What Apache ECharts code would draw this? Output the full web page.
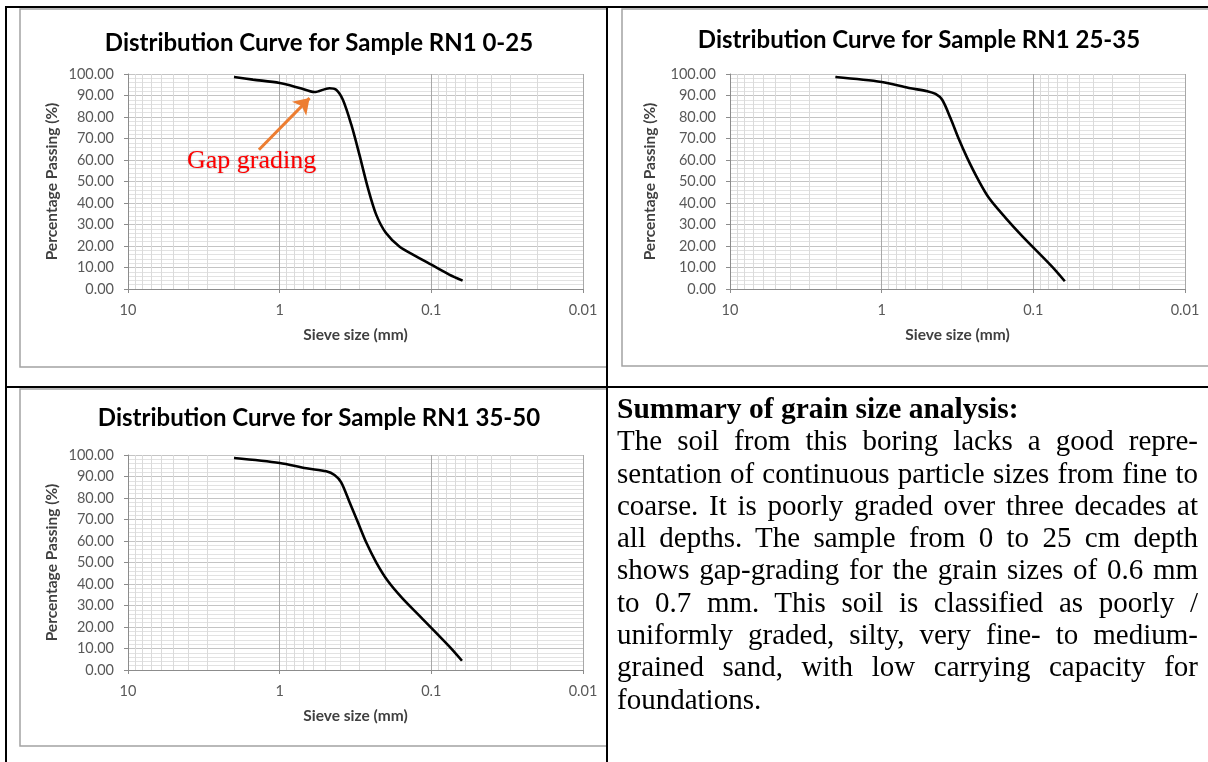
<!DOCTYPE html>
<html><head><meta charset="utf-8">
<script src="https://cdn.jsdelivr.net/npm/echarts@6/dist/echarts.min.js"></script>
<style>
html,body{margin:0;padding:0;background:#fff;}
#wrap{position:relative;width:1208px;height:762px;overflow:hidden;background:#fff;}
#chart{position:absolute;left:0;top:0;width:1208px;height:762px;}
#summary{position:absolute;left:617px;top:392px;width:581px;font-family:'Liberation Serif','Times New Roman',serif;font-size:29px;line-height:32.3px;color:#000;}
#summary .h{font-weight:bold;font-size:29.5px;}
#summary .j{text-align:justify;text-align-last:justify;}
</style></head>
<body><div id="wrap"><div id="chart"></div><div id="summary"></div></div>
<script>
// ---- data ----
const chartTitles = ['Distribution Curve for Sample RN1 0-25', 'Distribution Curve for Sample RN1 25-35', 'Distribution Curve for Sample RN1 35-50'];
const xAxisTitle = 'Sieve size (mm)';
const yAxisTitle = 'Percentage Passing (%)';

const sieve1 = [2.0, 1.5, 1.0, 0.74, 0.59, 0.47, 0.424, 0.383, 0.337, 0.298, 0.262, 0.231, 0.199, 0.1625, 0.126, 0.1, 0.0762, 0.0622];
const passing1 = [98.6, 97.4, 95.8, 93.5, 91.6, 93.4, 92.7, 88.0, 76.4, 62.5, 47.0, 34.6, 26.0, 19.8, 15.2, 11.3, 6.7, 3.9];

const sieve2 = [2.02, 1.0, 0.661, 0.5, 0.441, 0.399, 0.352, 0.309, 0.273, 0.234, 0.196, 0.152, 0.118, 0.075, 0.062];
const passing2 = [98.6, 96.3, 93.5, 92.0, 90.7, 88.0, 79.5, 69.5, 61.0, 51.6, 42.3, 33.0, 24.5, 10.3, 3.6];

const sieve3 = [2.0, 1.0, 0.667, 0.493, 0.435, 0.393, 0.346, 0.305, 0.269, 0.231, 0.194, 0.155, 0.12, 0.0762, 0.0628];
const passing3 = [98.6, 96.3, 93.8, 92.4, 90.7, 87.3, 78.0, 68.7, 59.4, 50.1, 41.5, 33.3, 25.3, 11.0, 4.3];

const minorSieveLines = [9, 8, 7, 6, 5, 4, 3, 2, 0.9, 0.8, 0.7, 0.6, 0.5, 0.4, 0.3, 0.2, 0.09, 0.08, 0.07, 0.06, 0.05, 0.04, 0.03, 0.02];

const gapLabel = 'Gap grading';
const gapLabelAt = [1.53, 59.5];
const gapArrowFrom = [1.37, 64.8];
const gapArrowTo = [0.635, 88.8];

const summaryTitle = 'Summary of grain size analysis:';
const summaryLines = [
  'The soil from this boring lacks a good repre-',
  'sentation of continuous particle sizes from fine to',
  'coarse. It is poorly graded over three decades at',
  'all depths. The sample from 0 to 25 cm depth',
  'shows gap-grading for the grain sizes of 0.6 mm',
  'to 0.7 mm. This soil is classified as poorly /',
  'uniformly graded, silty, very fine- to medium-',
  'grained sand, with low carrying capacity for',
  'foundations.'
];

// ---- summary text ----
const sum = document.getElementById('summary');
const hd = document.createElement('div'); hd.className = 'h'; hd.textContent = summaryTitle; sum.appendChild(hd);
summaryLines.forEach((t, i) => {
  const d = document.createElement('div');
  if (i < summaryLines.length - 1) d.className = 'j';
  d.textContent = t; sum.appendChild(d);
});

// ---- layout ----
const FONT = 'Lato, "Open Sans", sans-serif';
const grids = [
  {left: 128, top: 74, width: 455, height: 215},
  {left: 730, top: 74, width: 455, height: 215},
  {left: 128, top: 455, width: 455, height: 215}
];
const yNameGaps = [68, 72, 68];
const titlePos = [[319, 43], [919, 40], [319, 418]];
const seriesData = [[sieve1, passing1], [sieve2, passing2], [sieve3, passing3]];

const xAxes = [], yAxes = [], series = [];
grids.forEach((g, i) => {
  xAxes.push({
    gridIndex: i, type: 'log', logBase: 10, min: 0.01, max: 10, inverse: true,
    axisLine: {show: true, onZero: false, lineStyle: {color: '#8c8c8c', width: 1}},
    axisTick: {show: true, length: 4, lineStyle: {color: '#8c8c8c'}},
    axisLabel: {formatter: v => String(Number(Number(v).toPrecision(1))), fontFamily: FONT, fontSize: 14.5, color: '#595959', margin: 14},
    splitLine: {show: true, lineStyle: {color: '#a8a8a8', width: 1}},
    name: xAxisTitle, nameLocation: 'middle', nameGap: 38,
    nameTextStyle: {fontFamily: FONT, fontWeight: 'bold', fontSize: 15.5, color: '#404040'}
  });
  yAxes.push({
    gridIndex: i, type: 'value', min: 0, max: 100, interval: 10,
    axisLine: {show: true, lineStyle: {color: '#8c8c8c', width: 1}},
    axisTick: {show: true, length: 4, lineStyle: {color: '#8c8c8c'}},
    axisLabel: {formatter: v => Number(v).toFixed(2), fontFamily: FONT, fontSize: 14.5, color: '#595959', margin: 14},
    splitLine: {show: true, lineStyle: {color: '#c4c4c4', width: 1}},
    minorTick: {show: false, splitNumber: 5},
    minorSplitLine: {show: true, lineStyle: {color: '#e2e2e2', width: 1}},
    name: yAxisTitle, nameLocation: 'middle', nameGap: yNameGaps[i], nameRotate: 90,
    nameTextStyle: {fontFamily: FONT, fontWeight: 'bold', fontSize: 15.5, color: '#404040'}
  });
  series.push({
    type: 'line', xAxisIndex: i, yAxisIndex: i, data: [], z: 1, silent: true,
    markLine: {
      z: 1, silent: true, symbol: ['none', 'none'], label: {show: false}, animation: false,
      lineStyle: {color: '#dadada', width: 1, type: 'solid'},
      emphasis: {disabled: true},
      data: minorSieveLines.map(v => ({xAxis: v}))
    }
  });
  const [xs, ys] = seriesData[i];
  series.push({
    type: 'line', xAxisIndex: i, yAxisIndex: i, z: 8,
    data: xs.map((x, k) => [x, ys[k]]),
    smooth: 0.3, showSymbol: false, symbol: 'none',
    lineStyle: {color: '#000', width: 2.6}
  });
});
// annotation on chart 1
series.push({
  type: 'line', xAxisIndex: 0, yAxisIndex: 0, data: [], z: 9,
  markLine: {
    z: 9, silent: true, animation: false, symbol: ['none', 'arrow'], symbolSize: 15,
    label: {show: false},
    lineStyle: {color: '#ED7D31', width: 3, type: 'solid'},
    itemStyle: {color: '#ED7D31'},
    data: [[{coord: gapArrowFrom}, {coord: gapArrowTo}]]
  },
  markPoint: {
    z: 9, silent: true, animation: false, symbol: 'circle', symbolSize: 0,
    label: {show: true, position: 'inside', formatter: gapLabel, color: '#ff0000',
      fontFamily: '"Liberation Serif", "Times New Roman", serif', fontSize: 26,
      textShadowColor: 'rgba(0,0,0,0.25)', textShadowBlur: 2},
    data: [{coord: gapLabelAt}]
  }
});

const graphic = [
  // chart frames
  {type: 'rect', z: -10, shape: {x: 20, y: 9, width: 587, height: 358}, style: {fill: 'transparent', stroke: '#a3a3a3', lineWidth: 1.5}},
  {type: 'rect', z: -10, shape: {x: 622, y: 9, width: 600, height: 357}, style: {fill: 'transparent', stroke: '#a3a3a3', lineWidth: 1.5}},
  {type: 'rect', z: -10, shape: {x: 20, y: 389, width: 587, height: 357}, style: {fill: 'transparent', stroke: '#a3a3a3', lineWidth: 1.5}},
  // table rules
  {type: 'rect', z: 100, shape: {x: 5, y: 6, width: 1203, height: 2}, style: {fill: '#000'}},
  {type: 'rect', z: 100, shape: {x: 5, y: 6, width: 2, height: 756}, style: {fill: '#000'}},
  {type: 'rect', z: 100, shape: {x: 606, y: 6, width: 2, height: 756}, style: {fill: '#000'}},
  {type: 'rect', z: 100, shape: {x: 5, y: 386, width: 1203, height: 2}, style: {fill: '#000'}}
];
chartTitles.forEach((t, i) => {
  graphic.push({type: 'text', z: 50, x: titlePos[i][0], y: titlePos[i][1],
    style: {text: t, fontFamily: FONT, fontWeight: 'bold', fontSize: 24, fill: '#000',
      align: 'center', verticalAlign: 'middle', textAlign: 'center', textVerticalAlign: 'middle'}});
});

const chart = echarts.init(document.getElementById('chart'), null, {renderer: 'canvas'});
chart.setOption({
  animation: false,
  backgroundColor: 'transparent',
  grid: grids.map(g => Object.assign({containLabel: false}, g)),
  xAxis: xAxes,
  yAxis: yAxes,
  series: series,
  graphic: graphic
});
</script></body></html>
